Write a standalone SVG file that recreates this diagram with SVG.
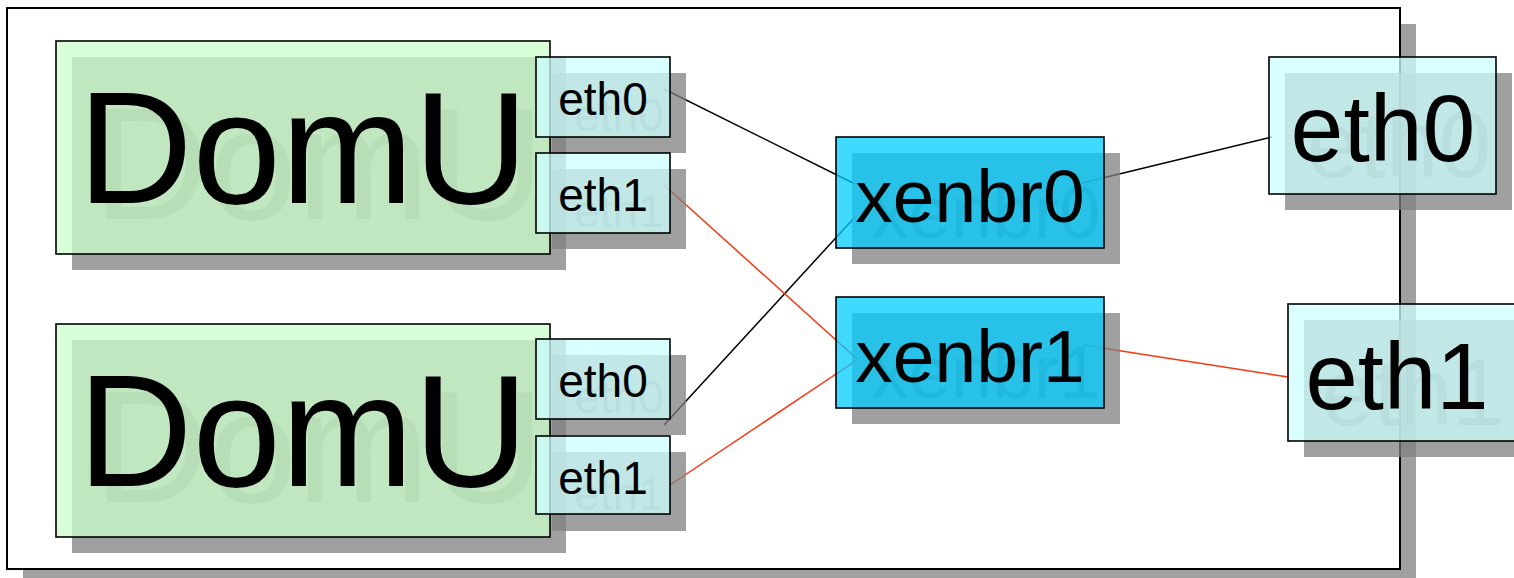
<svg xmlns="http://www.w3.org/2000/svg" width="1514" height="578" viewBox="0 0 1514 578">
  <style>
    text { font-family: "Liberation Sans", Arial, sans-serif; text-anchor: middle; }
    .sh rect { fill: #808080; fill-opacity: 0.75; }
    .sh text { fill: #707070; fill-opacity: 0.75; }
    .box { stroke: #000; stroke-width: 1.6; fill-opacity: 0.75; }
    .domu .box { fill: #ccffcc; }
    .port .box { fill: #ccffff; }
    .bridge .box { fill: #00ccff; }
    .label { fill: #000; }
    .wire { fill: none; stroke-width: 1.5; }
    .blk { stroke: #000; }
    .red { stroke: #f5380f; }
  </style>

  <!-- outer host frame -->
  <g id="host">
    <rect x="23" y="24" width="1393" height="561" fill="#808080" fill-opacity="0.75"/>
    <rect x="7" y="8" width="1393" height="561" fill="#fff" stroke="#000" stroke-width="2"/>
  </g>

  <!-- links between interfaces and bridges -->
  <g id="connectors">
    <line class="wire blk" x1="664" y1="89" x2="855" y2="184"/>
    <line class="wire blk" x1="664" y1="425" x2="855" y2="217"/>
    <line class="wire blk" x1="1082" y1="183" x2="1272" y2="137"/>
    <line class="wire red" x1="664" y1="185" x2="857" y2="359"/>
    <line class="wire red" x1="670" y1="485" x2="857" y2="360"/>
    <line class="wire red" x1="1083" y1="345" x2="1288" y2="377"/>
  </g>

  <!-- first guest -->
  <g id="domu1" class="domu">
    <g class="sh"><rect x="72" y="57" width="494" height="213"/><text x="319" y="219" font-size="159">DomU</text></g>
    <rect class="box" x="56" y="41" width="494" height="213"/>
    <text class="label" x="303" y="203" font-size="159">DomU</text>
  </g>
  <g id="domu1-eth0" class="port">
    <g class="sh"><rect x="552" y="73" width="134" height="80"/><text x="619" y="131" font-size="46">eth0</text></g>
    <rect class="box" x="536" y="57" width="134" height="80"/>
    <text class="label" x="603" y="115" font-size="46">eth0</text>
  </g>
  <g id="domu1-eth1" class="port">
    <g class="sh"><rect x="552" y="169" width="134" height="80"/><text x="619" y="227" font-size="46">eth1</text></g>
    <rect class="box" x="536" y="153" width="134" height="80"/>
    <text class="label" x="603" y="211" font-size="46">eth1</text>
  </g>

  <!-- second guest -->
  <g id="domu2" class="domu">
    <g class="sh"><rect x="72" y="340" width="494" height="213"/><text x="319" y="502" font-size="159">DomU</text></g>
    <rect class="box" x="56" y="324" width="494" height="213"/>
    <text class="label" x="303" y="486" font-size="159">DomU</text>
  </g>
  <g id="domu2-eth0" class="port">
    <g class="sh"><rect x="552" y="355" width="134" height="80"/><text x="619" y="413" font-size="46">eth0</text></g>
    <rect class="box" x="536" y="339" width="134" height="80"/>
    <text class="label" x="603" y="397" font-size="46">eth0</text>
  </g>
  <g id="domu2-eth1" class="port">
    <g class="sh"><rect x="552" y="452" width="134" height="79"/><text x="619" y="510" font-size="46">eth1</text></g>
    <rect class="box" x="536" y="436" width="134" height="78"/>
    <text class="label" x="603" y="494" font-size="46">eth1</text>
  </g>

  <!-- bridges -->
  <g id="xenbr0" class="bridge">
    <g class="sh"><rect x="852" y="153" width="268" height="111"/><text x="986" y="238" font-size="75">xenbr0</text></g>
    <rect class="box" x="836" y="137" width="268" height="111"/>
    <text class="label" x="970" y="222" font-size="75">xenbr0</text>
  </g>
  <g id="xenbr1" class="bridge">
    <g class="sh"><rect x="852" y="313" width="268" height="111"/><text x="986" y="398" font-size="75">xenbr1</text></g>
    <rect class="box" x="836" y="297" width="268" height="111"/>
    <text class="label" x="970" y="382" font-size="75">xenbr1</text>
  </g>

  <!-- physical interfaces -->
  <g id="peth0" class="port">
    <g class="sh"><rect x="1285" y="73" width="227" height="137"/><text x="1399" y="177" font-size="95">eth0</text></g>
    <rect class="box" x="1269" y="57" width="227" height="137"/>
    <text class="label" x="1383" y="161" font-size="95">eth0</text>
  </g>
  <g id="peth1" class="port">
    <g class="sh"><rect x="1304" y="320" width="227" height="137"/><text x="1413" y="425" font-size="94">eth1</text></g>
    <rect class="box" x="1288" y="304" width="227" height="137"/>
    <text class="label" x="1397" y="409" font-size="94">eth1</text>
  </g>
</svg>
